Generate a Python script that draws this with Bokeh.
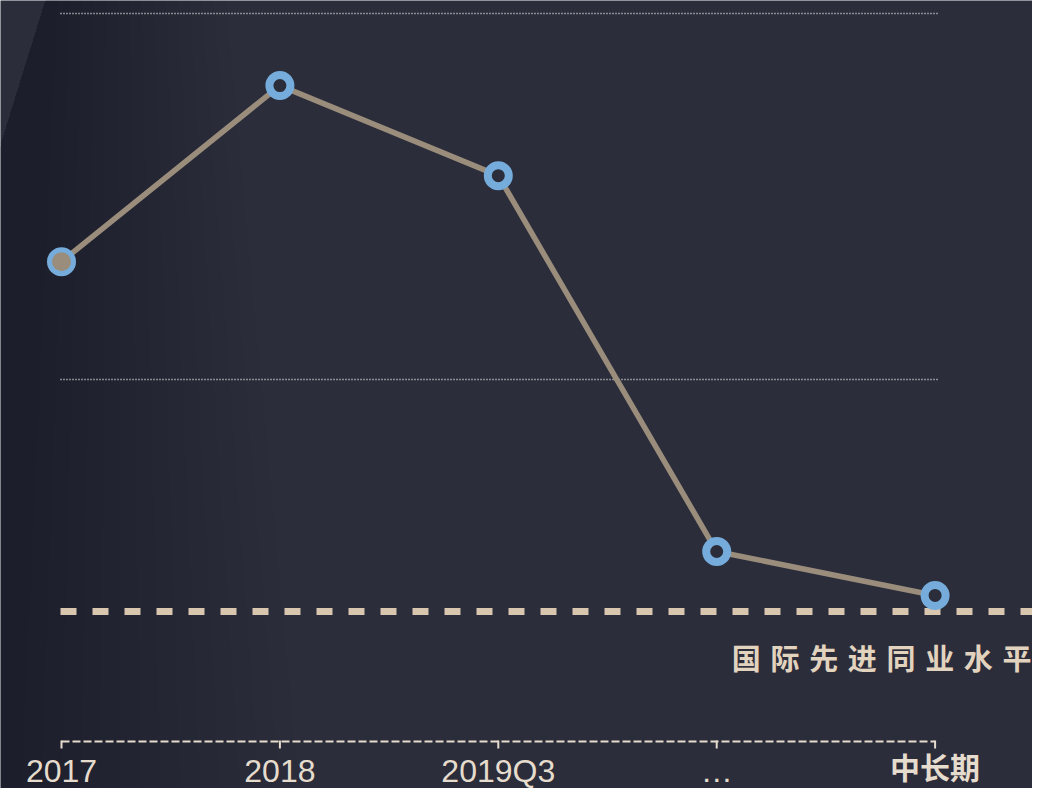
from bokeh.plotting import figure
from bokeh.models import Range1d
from bokeh.core.properties import value
from bokeh.embed import file_html
from bokeh.resources import INLINE

# ---- data ----
categories = ["2017", "2018", "2019Q3", "…", "中长期"]
series_values = [13.22, 18.03, 15.57, 5.30, 4.10]
benchmark_value = 3.66
benchmark_label = "国际先进同业水平"
grid_values = [10, 20]

# ---- layout geometry (picture pixels -> data) ----
W, H = 1032, 788
X_PX0, X_STEP = 61.0, 218.4
Y_PX0, Y_UNIT = 745.0, 36.6


def dx(px):
    return (px - X_PX0) / X_STEP


def dy(py):
    return (Y_PX0 - py) / Y_UNIT


BG = "#2b2d3a"
LINE = "#9b8d7c"
BLUE = "#76acdb"
BEIGE = "#d8c6ae"
TXT = "#e6dccd"

p = figure(width=W, height=H, output_backend="svg", toolbar_location=None,
           x_range=Range1d(dx(0), dx(W)),
           y_range=Range1d(dy(H), dy(0)),
           x_axis_location=None, y_axis_location=None,
           min_border=0, background_fill_color=BG, border_fill_color=BG,
           outline_line_color=None)
p.grid.visible = False

# subtle dark shading on the left side
for w in range(20, 320, 20):
    p.patch([dx(45), dx(45 + w * 0.6), dx(w), dx(0), dx(0)],
            [dy(0), dy(0), dy(804), dy(804), dy(145)],
            fill_color="#18181c", fill_alpha=0.015, line_color=None)

xs = list(range(len(categories)))

# dotted horizontal gridlines
p.segment(x0=[dx(60)] * len(grid_values), x1=[dx(937)] * len(grid_values),
          y0=grid_values, y1=grid_values,
          line_color="#ececec", line_width=1.5, line_dash="1 2")

# benchmark dashed line
p.segment(x0=[dx(60)], x1=[dx(1060)], y0=[benchmark_value], y1=[benchmark_value],
          line_color=BEIGE, line_width=7, line_dash="16 16")
p.text(x=[dx(1031)], y=[dy(656)], text=["\u2004".join(benchmark_label)],
       text_font=value("Noto Sans CJK SC"), text_font_style="bold",
       text_font_size="29px", text_color="#e2d3bf",
       text_align="right", text_baseline="middle")

# x axis: dashed line with ticks
p.segment(x0=[xs[0]], x1=[xs[-1]], y0=[dy(741)], y1=[dy(741)],
          line_color=TXT, line_width=2, line_dash="8 3")
p.segment(x0=xs, x1=xs, y0=[dy(740)] * len(xs), y1=[dy(748)] * len(xs),
          line_color=TXT, line_width=2)

# tick labels
p.text(x=xs[:4], y=[dy(770)] * 4, text=categories[:4],
       text_font=value("Liberation Sans"), text_font_size="32px",
       text_color=TXT, text_align="center", text_baseline="middle")
p.text(x=[xs[4]], y=[dy(765)], text=[categories[4]],
       text_font=value("Noto Sans CJK SC"), text_font_style="bold",
       text_font_size="30px", text_color=TXT,
       text_align="center", text_baseline="middle")

# data line and markers
p.line(xs, series_values, line_color=LINE, line_width=5.5)
p.scatter(xs, series_values, size=21, line_width=8, line_color=BLUE, fill_color=BG)
p.scatter(xs[:1], series_values[:1], size=19, line_color=None, fill_color=LINE)

open("out.html", "w").write(file_html(p, INLINE))
